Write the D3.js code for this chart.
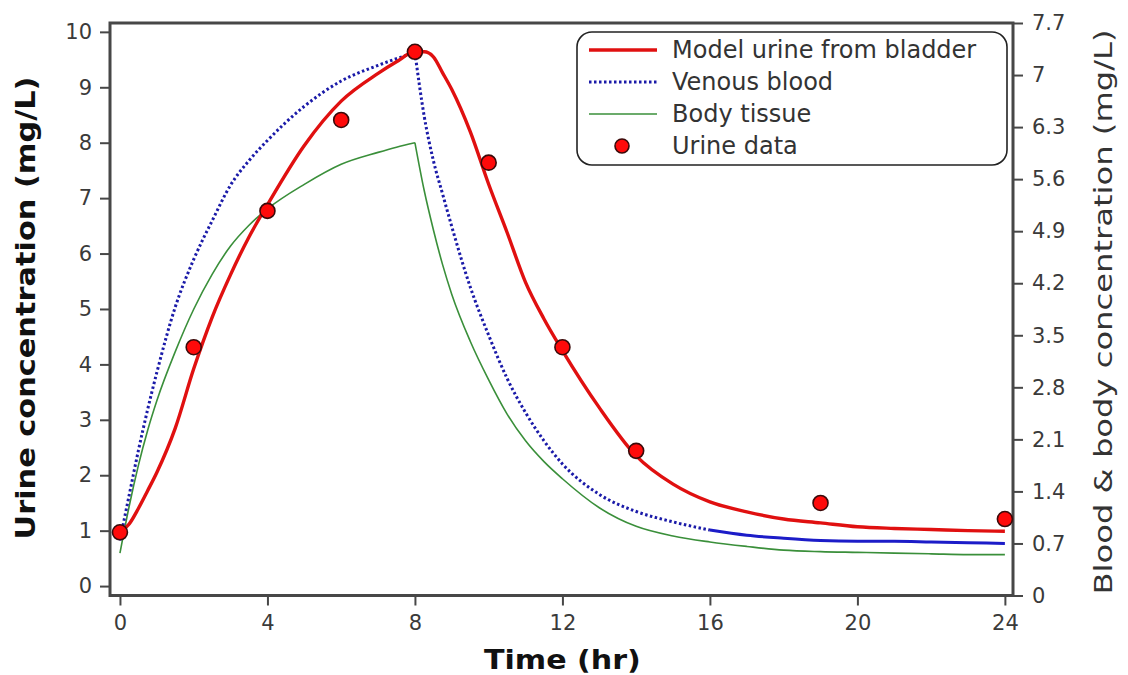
<!DOCTYPE html>
<html>
<head>
<meta charset="utf-8">
<script src="https://cdn.jsdelivr.net/npm/d3@7/dist/d3.min.js"></script>
<style>
  html, body { margin: 0; padding: 0; background: #fff; }
  svg { display: block; font-family: "DejaVu Sans", Verdana, sans-serif; }
</style>
</head>
<body>
<svg id="chart" width="1128" height="675"></svg>
<script>
// Sampling times (hr) for the simulated curves
const times = [0, 0.25, 0.5, 0.75, 1, 1.5, 2, 2.5, 3, 3.5, 4, 5, 6, 7, 7.5, 8, 8.25, 8.5, 8.75, 9, 9.5, 10, 10.5, 11, 11.5, 12, 13, 14, 15, 16, 17, 18, 19, 20, 21, 22, 23, 24];

// Model urine from bladder (mg/L, left axis)
const modelUrine = [0.97, 1.12, 1.40, 1.72, 2.05, 2.85, 3.92, 4.85, 5.62, 6.30, 6.88, 7.95, 8.75, 9.25, 9.46, 9.64, 9.64, 9.55, 9.26, 8.96, 8.20, 7.25, 6.38, 5.48, 4.82, 4.25, 3.22, 2.35, 1.84, 1.52, 1.34, 1.21, 1.14, 1.07, 1.04, 1.02, 1.00, 0.99];

// Venous blood (mg/L, right axis)
const venousBlood = [0.74, 1.35, 1.95, 2.50, 3.00, 3.88, 4.52, 5.04, 5.52, 5.85, 6.12, 6.58, 6.92, 7.13, 7.22, 7.30, 6.45, 5.85, 5.40, 4.96, 4.15, 3.50, 2.92, 2.46, 2.08, 1.77, 1.36, 1.13, 0.99, 0.88, 0.81, 0.77, 0.74, 0.73, 0.73, 0.72, 0.71, 0.70];

// Body tissue (mg/L, right axis)
const bodyTissue = [0.57, 1.20, 1.75, 2.22, 2.62, 3.28, 3.85, 4.32, 4.70, 4.98, 5.20, 5.53, 5.80, 5.96, 6.03, 6.09, 5.45, 4.92, 4.45, 4.05, 3.42, 2.90, 2.44, 2.08, 1.80, 1.57, 1.18, 0.93, 0.80, 0.72, 0.66, 0.61, 0.59, 0.58, 0.57, 0.56, 0.55, 0.55];

// Measured urine samples
const dataTimes = [0, 2, 4, 6, 8, 10, 12, 14, 19, 24];
const dataUrine = [0.97, 4.31, 6.77, 8.41, 9.64, 7.64, 4.31, 2.44, 1.50, 1.21];

// Tick values
const xTicks = [0, 4, 8, 12, 16, 20, 24];
const yLeftTicks = [0, 1, 2, 3, 4, 5, 6, 7, 8, 9, 10];
const yRightTicks = [0, 0.7, 1.4, 2.1, 2.8, 3.5, 4.2, 4.9, 5.6, 6.3, 7, 7.7];

const legendLabels = ["Model urine from bladder", "Venous blood", "Body tissue", "Urine data"];

const svg = d3.select("#chart");
const plot = { left: 110, right: 1013, top: 23, bottom: 595.5 };

const x = d3.scaleLinear().domain([-0.27, 24.22]).range([plot.left, plot.right]);
const yL = d3.scaleLinear().domain([-0.17, 10.16]).range([plot.bottom, plot.top]);
const yR = d3.scaleLinear().domain([0, 7.7]).range([plot.bottom, plot.top]);

const tickColor = "#3a3a3a";
const frameColor = "#474747";

// Axes
const fmtR = d => d3.format("~g")(d);

const gx = svg.append("g")
  .attr("transform", `translate(0,${plot.bottom})`)
  .call(d3.axisBottom(x).tickValues(xTicks).tickSize(10).tickPadding(10));
const gyl = svg.append("g")
  .attr("transform", `translate(${plot.left},0)`)
  .call(d3.axisLeft(yL).tickValues(yLeftTicks).tickSize(10).tickPadding(8));
const gyr = svg.append("g")
  .attr("transform", `translate(${plot.right},0)`)
  .call(d3.axisRight(yR).tickValues(yRightTicks).tickFormat(fmtR).tickSize(10).tickPadding(9));

[gx, gyl, gyr].forEach(g => {
  g.select(".domain").remove();
  g.selectAll(".tick line").attr("stroke", frameColor).attr("stroke-width", 2);
  g.selectAll(".tick text")
    .attr("fill", tickColor)
    .style("font-size", "21px")
    .style("font-family", "'DejaVu Sans', Verdana, sans-serif");
});

// Plot frame
svg.append("rect")
  .attr("x", plot.left).attr("y", plot.top)
  .attr("width", plot.right - plot.left).attr("height", plot.bottom - plot.top)
  .attr("fill", "none").attr("stroke", frameColor).attr("stroke-width", 3);

// Path through a range of samples of one series; the dose stops at t = 8,
// so blood and tissue curves are drawn as two smooth pieces meeting in a corner there.
const kink = times.indexOf(8);
const piece = (values, scale, start, end) => d3.line()
  .x(i => x(times[i])).y(i => scale(values[i]))
  .curve(d3.curveMonotoneX)(d3.range(start, end + 1));
const last = times.length - 1;

svg.append("path")
  .attr("d", piece(bodyTissue, yR, 0, kink) + piece(bodyTissue, yR, kink, last))
  .attr("fill", "none").attr("stroke", "#3a8f3a").attr("stroke-width", 1.6);

// Venous blood: dotted through the washout, solid once it levels off
const level = times.indexOf(16);
svg.append("path")
  .attr("d", piece(venousBlood, yR, 0, kink) + piece(venousBlood, yR, kink, level))
  .attr("fill", "none").attr("stroke", "#1a1aa8").attr("stroke-width", 3)
  .attr("stroke-dasharray", "2.5,2.5");
svg.append("path")
  .attr("d", piece(venousBlood, yR, level, last))
  .attr("fill", "none").attr("stroke", "#1c1cc8").attr("stroke-width", 3);

svg.append("path")
  .attr("d", piece(modelUrine, yL, 0, last))
  .attr("fill", "none").attr("stroke", "#e01010").attr("stroke-width", 3.4);

// Urine data points
svg.append("g").selectAll("circle")
  .data(dataUrine)
  .join("circle")
  .attr("cx", (d, i) => x(dataTimes[i]))
  .attr("cy", d => yL(d))
  .attr("r", 7.5)
  .attr("fill", "#ff0a0a")
  .attr("stroke", "#3a0a0a")
  .attr("stroke-width", 1.6);

// Axis titles
svg.append("text")
  .attr("transform", "translate(26,308) rotate(-90)")
  .attr("text-anchor", "middle")
  .attr("dominant-baseline", "central")
  .attr("textLength", 463).attr("lengthAdjust", "spacingAndGlyphs")
  .style("font-size", "26px").style("font-weight", "bold").attr("fill", "#111")
  .text("Urine concentration (mg/L)");

svg.append("text")
  .attr("transform", "translate(1104,312) rotate(-90)")
  .attr("text-anchor", "middle")
  .attr("dominant-baseline", "central")
  .attr("textLength", 565).attr("lengthAdjust", "spacingAndGlyphs")
  .style("font-size", "24px").attr("fill", "#333")
  .text("Blood & body concentration (mg/L)");

svg.append("text")
  .attr("x", x(12)).attr("y", 669)
  .attr("text-anchor", "middle")
  .attr("textLength", 157).attr("lengthAdjust", "spacingAndGlyphs")
  .style("font-size", "27px").style("font-weight", "bold").attr("fill", "#111")
  .text("Time (hr)");

// Legend
const lg = svg.append("g");
lg.append("rect")
  .attr("x", 577).attr("y", 32).attr("width", 430).attr("height", 133)
  .attr("rx", 15).attr("ry", 15)
  .attr("fill", "#fff").attr("stroke", "#222").attr("stroke-width", 1.6);

const rows = [50, 82, 114, 146];
lg.append("line").attr("x1", 589).attr("x2", 657).attr("y1", rows[0]).attr("y2", rows[0])
  .attr("stroke", "#e01010").attr("stroke-width", 3.4);
lg.append("line").attr("x1", 589).attr("x2", 657).attr("y1", rows[1]).attr("y2", rows[1])
  .attr("stroke", "#1a1aa8").attr("stroke-width", 3).attr("stroke-dasharray", "2.5,2.5");
lg.append("line").attr("x1", 589).attr("x2", 657).attr("y1", rows[2]).attr("y2", rows[2])
  .attr("stroke", "#3a8f3a").attr("stroke-width", 1.6);
lg.append("circle").attr("cx", 622).attr("cy", rows[3]).attr("r", 7)
  .attr("fill", "#ff0a0a").attr("stroke", "#3a0a0a").attr("stroke-width", 1.6);

lg.selectAll("text.lbl")
  .data(legendLabels)
  .join("text")
  .attr("class", "lbl")
  .attr("x", 672)
  .attr("y", (d, i) => rows[i])
  .attr("dominant-baseline", "central")
  .style("font-size", "24px").attr("fill", "#333")
  .text(d => d);
</script>
</body>
</html>
